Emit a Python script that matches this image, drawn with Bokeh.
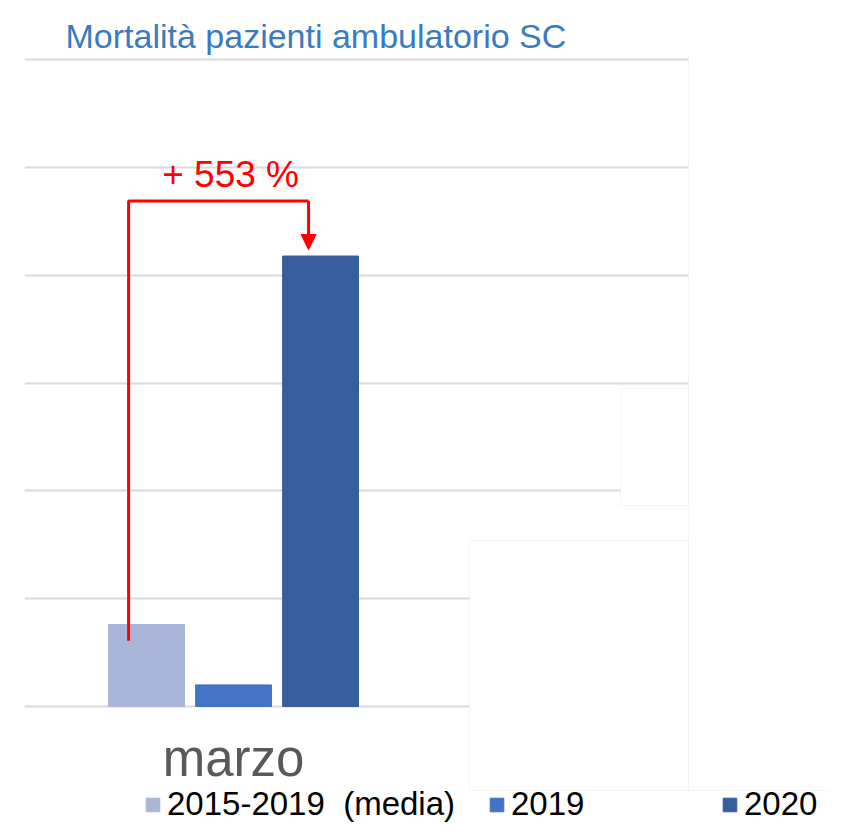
from bokeh.plotting import figure
from bokeh.models import (Range1d, FixedTicker, Legend, LegendItem, Label, Arrow,
                          NormalHead, ColumnDataSource, BoxAnnotation)
from bokeh.core.properties import value
from bokeh.embed import file_html
from bokeh.resources import INLINE

# ---- data ----
months = ["marzo"]
series = ["2015-2019  (media)", "2019", "2020"]
media_2015_2019 = [3.8]
val_2019 = [1.0]
val_2020 = [20.9]
increase_label = "+ 553 %"
title_text = "Mortalità pazienti ambulatorio SC"
y_ticks = [0, 5, 10, 15, 20, 25, 30]

colors = ["#A9B6DA", "#4472C4", "#365E9F"]
offsets = [-0.29, 0.0, 0.29]
bar_w = 0.253

p = figure(width=830, height=823, output_backend="svg", toolbar_location=None,
           x_range=Range1d(-0.697, 1.99), y_range=Range1d(-5.43, 30.25),
           min_border_left=24, min_border_right=0, min_border_bottom=0,
           min_border_top=54)
p.outline_line_color = None
p.background_fill_color = "white"
p.border_fill_color = "white"

p.title.text = title_text
p.title.text_font = "Liberation Sans"
p.title.text_font_size = "34px"
p.title.text_font_style = "normal"
p.title.text_color = "#3A7BC0"
p.title.align = "left"
p.title.offset = 41
p.title.standoff = 0

p.xaxis.visible = False
p.yaxis.visible = False
p.xgrid.visible = False
p.ygrid.ticker = FixedTicker(ticks=y_ticks)
p.ygrid.grid_line_color = "#D9D9D9"
p.ygrid.grid_line_width = 2

idx = list(range(len(months)))
renderers = []
for vals, off, col in zip([media_2015_2019, val_2019, val_2020], offsets, colors):
    src = ColumnDataSource(dict(x=[i + off for i in idx], top=vals))
    r = p.vbar(x="x", top="top", bottom=0, width=bar_w, source=src,
               fill_color=col, line_color=col)
    renderers.append(r)

# category label under the group
p.text(x=idx, y=[-2.42] * len(idx), text=months, text_align="center",
       text_baseline="alphabetic", text_font=value("Liberation Sans"),
       text_font_size="51px", text_color="#595959")

# annotation arrow from media bar to 2020 bar
x_from = idx[0] + offsets[0] - 0.06
x_to = idx[0] + offsets[2] - 0.04
y_from = media_2015_2019[0] - 0.75
y_top = val_2020[0] + 2.55
y_tip = val_2020[0] + 0.3
p.line(x=[x_from, x_from, x_to], y=[y_from, y_top, y_top], line_color="#FF0000", line_width=3)
p.add_layout(Arrow(x_start=x_to, y_start=y_top, x_end=x_to, y_end=y_tip,
                   line_color="#FF0000", line_width=3,
                   end=NormalHead(size=15, fill_color="#FF0000", line_color="#FF0000")))
p.add_layout(Label(x=idx[0] - 0.01, y=y_top + 1.25, text=increase_label,
                   text_align="center", text_baseline="middle",
                   text_font="Liberation Sans", text_font_size="37px",
                   text_color="#FF0000"))

# white patches over the right / lower right (as in the source screenshot)
# screen units: x from frame left, y up from frame bottom
for l, r_, t, b in [(664, 900, 900, 33), (596, 664, 435, 318), (445, 664, 283, 33)]:
    p.add_layout(BoxAnnotation(left=l, right=r_, top=t, bottom=b,
                               left_units="screen", right_units="screen",
                               top_units="screen", bottom_units="screen",
                               fill_color="white", fill_alpha=1,
                               line_color="#E2E2E2", line_width=1, level="overlay"))

# legends
leg_x = [120, 464, 697]
for r, s, lx in zip(renderers, series, leg_x):
    lg = Legend(items=[LegendItem(label=s, renderers=[r])], location=(lx, 0),
                orientation="horizontal", padding=0, margin=0, spacing=0,
                glyph_width=17, glyph_height=17, label_standoff=6,
                label_text_font="Liberation Sans", label_text_font_size="33px",
                label_text_color="#000000", border_line_color=None,
                background_fill_alpha=0)
    p.add_layout(lg)

open("out.html", "w").write(file_html(p, INLINE))
